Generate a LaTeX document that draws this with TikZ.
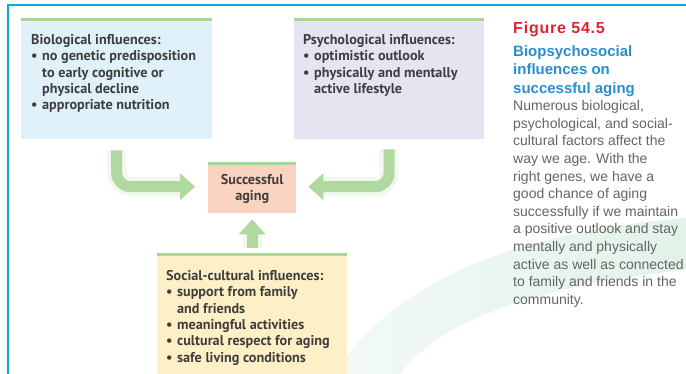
\documentclass[tikz,border=0pt]{standalone}
\usepackage{fontspec}
\setmainfont{Liberation Sans}
\newfontfamily\boxfont{PT Sans}
\usetikzlibrary{arrows.meta,positioning}

\definecolor{framecyan}{RGB}{0,172,218}
\definecolor{bargreen}{RGB}{170,214,152}
\definecolor{arrowgreen}{RGB}{176,216,160}
\definecolor{biofill}{RGB}{224,241,249}
\definecolor{psyfill}{RGB}{229,229,242}
\definecolor{agefill}{RGB}{250,212,193}
\definecolor{socfill}{RGB}{253,240,199}
\definecolor{swoosh}{RGB}{226,242,233}
\definecolor{boxtext}{RGB}{62,62,62}
\definecolor{figred}{RGB}{220,36,48}
\definecolor{figblue}{RGB}{40,142,205}
\definecolor{captext}{RGB}{100,100,100}

\newcommand{\itm}{\makebox[11pt][l]{\textbullet}}
\newcommand{\cnt}{\hspace*{11pt}}

\tikzset{
  infobox/.style={anchor=north west, inner sep=0pt, minimum height=121pt, minimum width=190pt},
  boxlabel/.style={anchor=north west, inner sep=0pt, align=left, text=boxtext,
    font=\boxfont\bfseries\fontsize{14.2}{16.4}\selectfont},
  greenbar/.style={draw=bargreen, line width=3pt},
  growarrow/.style={draw=arrowgreen, line width=11pt, rounded corners=14pt,
    -{Triangle[length=15pt,width=26pt]},
    preaction={draw=arrowgreen!40, line width=19pt, opacity=.45}}
}

\begin{document}
\begin{tikzpicture}[x=1pt,y=-1pt]
  \useasboundingbox (0,0) rectangle (686,374);
  % background swoosh
  \shade[left color=swoosh!40, right color=swoosh]
    (335,374) .. controls (380,300) and (480,235) .. (686,218)
    -- (686,270) .. controls (540,285) and (440,320) .. (400,374) -- cycle;
  % frame
  \draw[framecyan, line width=2pt] (8,374) -- (8,5) -- (686,5);

  % boxes
  \node[infobox, fill=biofill, minimum width=191pt] (bio) at (21,18) {};
  \node[infobox, fill=psyfill] (psy) at (294,18) {};
  \node[infobox, fill=socfill] (soc) at (157,253) {};
  \node[infobox, fill=agefill, minimum width=88pt, minimum height=51pt] (age) at (208,162) {};
  \foreach \b in {bio,psy,soc,age}
    \draw[greenbar] ([yshift=-1.5pt]\b.north west) -- ([yshift=-1.5pt]\b.north east);

  % arrows
  \draw[growarrow, shorten <=11pt, shorten >=13pt] (bio.south) |- ([yshift=1pt]age.west);
  \draw[growarrow, shorten <=10pt, shorten >=12pt] (psy.south) |- ([yshift=1pt]age.east);
  \draw[growarrow, shorten <=5pt, shorten >=6pt] (soc.north) -- (age.south);

  % box texts
  \node[boxlabel] (biotext) at ([shift={(10,16)}]bio.north west)
    {Biological influences:\\
     \itm no genetic predisposition\\
     \cnt to early cognitive or\\
     \cnt physical decline\\
     \itm appropriate nutrition};
  \node[boxlabel] (psytext) at ([shift={(9,16)}]psy.north west)
    {Psychological influences:\\
     \itm optimistic outlook\\
     \itm physically and mentally\\
     \cnt active lifestyle};
  \node[boxlabel] (soctext) at ([shift={(9,17)}]soc.north west)
    {Social-cultural influences:\\
     \itm support from family\\
     \cnt and friends\\
     \itm meaningful activities\\
     \itm cultural respect for aging\\
     \itm safe living conditions};
  \node[boxlabel, anchor=center, align=center] (agetext) at ([yshift=-1.5pt]age.center)
    {Successful\\aging};

  % caption
  \node[anchor=north west, inner sep=0pt, text=figred,
    font=\bfseries\fontsize{16}{20}\selectfont\addfontfeatures{LetterSpace=5}]
    (fig) at (513,22) {Figure 54.5};
  \node[anchor=north west, inner sep=0pt, align=left, text=figblue,
    font=\bfseries\fontsize{15}{18.3}\selectfont] (figtitle) at ([yshift=-8pt]fig.south west)
    {Biopsychosocial\\influences on\\successful aging};
  \node[anchor=north west, inner sep=0pt, align=left, text=captext,
    font=\fontsize{14}{17.6}\selectfont] (figbody) at ([yshift=-4pt]figtitle.south west)
    {Numerous biological,\\
     psychological, and social-\\
     cultural factors affect the\\
     way we age. With the\\
     right genes, we have a\\
     good chance of aging\\
     successfully if we maintain\\
     a positive outlook and stay\\
     mentally and physically\\
     active as well as connected\\
     to family and friends in the\\
     community.};
\end{tikzpicture}
\end{document}
